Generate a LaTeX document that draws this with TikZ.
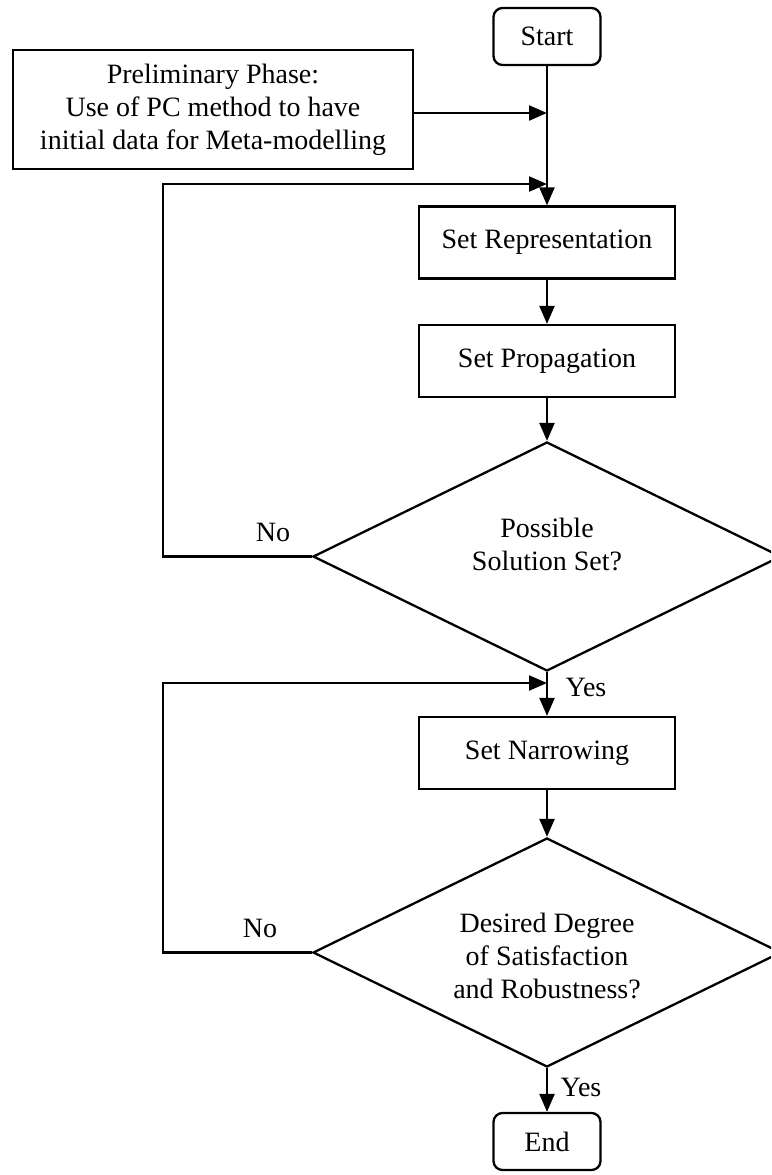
\documentclass[tikz,border=0pt]{standalone}
\usepackage{fontspec}
\setmainfont{Liberation Serif}
\usetikzlibrary{shapes.geometric,arrows.meta}
\newcommand{\flowfont}{\fontsize{28}{33}\selectfont}
\begin{document}
\begin{tikzpicture}[x=1pt,y=-1pt,
  every node/.style={font=\flowfont, align=center, inner sep=0pt},
  termbox/.style={draw, line width=2.3pt, rounded corners=9pt,
    minimum width=107pt, minimum height=57pt},
  procbox/.style={draw, line width=2.3pt, minimum width=256pt, minimum height=72pt},
  infobox/.style={draw, line width=2.3pt, minimum width=400pt, minimum height=119pt},
  decision/.style={draw, diamond, line width=2.3pt,
    minimum width=468pt, minimum height=229pt},
  flow/.style={line width=2.3pt, -{Triangle[length=18pt,width=15pt]}}]
\path[use as bounding box, clip] (0,0) rectangle (771,1175);

% main column
\node[termbox] (start) at (547,36.5) {Start};
\node[infobox] (prelim) at (213,109.5) {Preliminary Phase:\\Use of PC method to have\\initial data for Meta-modelling};
\node[procbox] (rep) at (547,242.5) {Set Representation};
\node[procbox] (prop) at (547,361) {Set Propagation};
\node[decision] (d1) at (547,556.5) {};
\node (d1text) at (547,544) {Possible\\Solution Set?};
\node[procbox] (narrow) at (547,753) {Set Narrowing};
\node[decision] (d2) at (547,952.5) {};
\node (d2text) at (547,956) {Desired Degree\\of Satisfaction\\and Robustness?};
\node[termbox] (end) at (547,1141.5) {End};

% branch labels
\node (no1) at (273,532) {No};
\node (yes1) at (586,687) {Yes};
\node (no2) at (260,928) {No};
\node (yes2) at (581,1087) {Yes};

% junctions on the main column and the left return lane
\coordinate (j1) at (547,113);
\coordinate (j2) at (547,184);
\coordinate (j3) at (547,683);
\coordinate (lane) at (163,0);

% connectors
\draw[flow] (start) -- (rep);
\draw[flow] (prelim.east |- j1) -- (j1);
\draw[flow] (rep) -- (prop);
\draw[flow] (prop) -- (d1);
\draw[flow] (d1) -- (narrow);
\draw[flow] (narrow) -- (d2);
\draw[flow] (d2) -- (end);
\draw[flow] (d1.west) -- (d1.west -| lane) -- (lane |- j2) -- (j2);
\draw[flow] (d2.west) -- (d2.west -| lane) -- (lane |- j3) -- (j3);
\end{tikzpicture}
\end{document}
